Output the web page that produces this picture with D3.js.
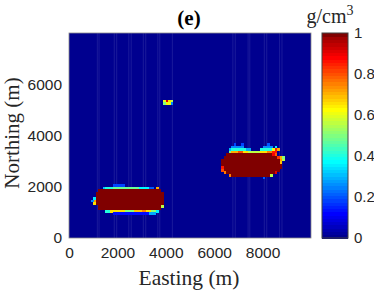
<!DOCTYPE html>
<html>
<head>
<meta charset="utf-8">
<script src="https://cdn.jsdelivr.net/npm/d3@7"></script>
<style>
  body { margin: 0; background: #fff; }
  svg { display: block; }
</style>
</head>
<body>
<div id="chart"></div>
<script>
// axis ticks
var xTicks = [0, 2000, 4000, 6000, 8000];
var yTicks = [0, 2000, 4000, 6000];
var cbTicks = [0, 0.2, 0.4, 0.6, 0.8, 1];

// grid cell size (m)
var cell = 100;

// runs of cells: [northing, eastFrom, eastTo, density]
var bodyWest = [
  [2000, 1800, 2300, 0.18],
  [1900, 1400, 1500, 0.3], [1900, 1500, 1800, 0.4], [1900, 1800, 2900, 0.47],
  [1900, 2900, 3300, 0.36], [1900, 3300, 3500, 0.2], [1900, 3600, 3700, 0.7],
  [1800, 1200, 3800, 1],
  [1700, 1100, 3900, 1], [1600, 1100, 3900, 1], [1500, 1100, 3900, 1],
  [1400, 1100, 3900, 1], [1300, 1100, 3900, 1],
  [1200, 1200, 3800, 1], [1200, 3800, 3900, 0.55],
  [1100, 1200, 3800, 1],
  [1500, 1000, 1100, 0.35], [1400, 1000, 1100, 0.72], [1300, 1000, 1100, 0.65],
  [1400, 900, 1000, 0.25],
  [1000, 1500, 1700, 0.4], [1000, 1700, 2300, 0.65], [1000, 2300, 2700, 0.5],
  [1000, 2700, 3000, 0.68], [1000, 3000, 3200, 0.75], [1000, 3200, 3400, 0.65],
  [1000, 3400, 3600, 0.5], [1000, 3600, 3700, 0.35],
  [900, 1800, 3300, 0.12], [900, 3300, 3600, 0.28]
];

var bodyEast = [
  [3600, 6800, 6900, 0.18], [3600, 7100, 7200, 0.18], [3600, 8200, 8300, 0.2],
  [3500, 6700, 7200, 0.25], [3500, 8000, 8400, 0.25], [3500, 8500, 8600, 0.35],
  [3400, 6600, 6700, 0.3], [3400, 6700, 7300, 0.4], [3400, 7300, 7500, 0.28],
  [3400, 7900, 8400, 0.4], [3400, 8400, 8500, 0.6], [3400, 8500, 8600, 0.85],
  [3400, 8600, 8700, 0.7],
  [3300, 6600, 6700, 0.5], [3300, 6700, 7000, 0.7], [3300, 7000, 7200, 0.8],
  [3300, 7200, 7400, 0.65], [3300, 7400, 7900, 0.55], [3300, 7900, 8200, 0.65],
  [3300, 8200, 8400, 0.75], [3300, 8400, 8600, 0.85],
  [3200, 6500, 8400, 1], [3200, 8400, 8500, 0.88], [3200, 8500, 8600, 0.78],
  [3100, 6400, 8600, 1], [3100, 8600, 8700, 0.82], [3100, 8700, 8800, 0.7],
  [3100, 8800, 8900, 0.5],
  [3000, 6300, 8700, 1], [3000, 8700, 8800, 0.72], [3000, 8800, 8900, 0.55],
  [2900, 6300, 8700, 1], [2900, 8700, 8800, 0.68],
  [2800, 6300, 8800, 1],
  [2700, 6300, 6400, 0.85], [2700, 6400, 8800, 1],
  [2600, 6300, 6400, 0.8], [2600, 6400, 8700, 1],
  [2500, 6400, 6500, 0.75], [2500, 6500, 8500, 1], [2500, 8500, 8600, 0.9],
  [2400, 6600, 6700, 0.75], [2400, 6700, 8300, 1], [2400, 8300, 8400, 0.55],
  [2300, 8000, 8100, 0.2]
];

var bodyNorth = [
  [5300, 3900, 4000, 0.6], [5300, 4000, 4100, 0.9], [5300, 4100, 4200, 0.65],
  [5300, 4200, 4300, 0.55],
  [5200, 3900, 4000, 0.5], [5200, 4000, 4100, 0.63], [5200, 4100, 4200, 0.6],
  [5200, 4200, 4300, 0.25]
];

// faint vertical streaks seen across the model
var streakEastings = [1150, 1220, 1850, 1950, 2450, 2550, 3050, 3150, 3650, 3730,
  4250, 6750, 6850, 7380, 7450, 8050, 8150, 8680, 8780];

var width = 374, height = 291;
var margin = {top: 33, left: 69, right: 63, bottom: 53};

var svg = d3.select("#chart").append("svg")
  .attr("width", width)
  .attr("height", height);

var x = d3.scaleLinear().domain([0, 10000]).range([margin.left, width - margin.right]);
var y = d3.scaleLinear().domain([0, 8000]).range([height - margin.bottom, margin.top]);

// MATLAB jet
var jet = d3.scaleLinear()
  .domain([0, 7 / 63, 23 / 63, 39 / 63, 55 / 63, 1])
  .range(["#00008f", "#0000ff", "#00ffff", "#ffff00", "#ff0000", "#800000"])
  .clamp(true);

// background
svg.append("rect")
  .attr("x", x(0)).attr("y", y(8000))
  .attr("width", x(10000) - x(0)).attr("height", y(0) - y(8000))
  .attr("fill", jet(0));

svg.selectAll(".streak")
  .data(streakEastings)
  .join("rect")
  .attr("class", "streak")
  .attr("x", d => x(d))
  .attr("y", y(8000))
  .attr("width", 1)
  .attr("height", y(0) - y(8000))
  .attr("fill", "#3a3aa8")
  .attr("opacity", 0.45);

// expand runs to cells
var cells = [];
[bodyWest, bodyEast, bodyNorth].forEach(function(body) {
  body.forEach(function(r) {
    for (var e = r[1]; e < r[2]; e += cell) {
      cells.push({e: e, n: r[0], v: r[3]});
    }
  });
});

svg.append("g")
  .attr("shape-rendering", "crispEdges")
  .selectAll("rect")
  .data(cells)
  .join("rect")
  .attr("x", d => x(d.e))
  .attr("y", d => y(d.n + cell))
  .attr("width", d => x(d.e + cell) - x(d.e) + 0.3)
  .attr("height", d => y(d.n) - y(d.n + cell) + 0.3)
  .attr("fill", d => jet(d.v));

// frame
svg.append("rect")
  .attr("x", x(0)).attr("y", y(8000))
  .attr("width", x(10000) - x(0)).attr("height", y(0) - y(8000))
  .attr("fill", "none").attr("stroke", "#8c8c8c").attr("stroke-width", 0.8);

var tickFont = "'Liberation Sans', Arial, sans-serif";
var labelFont = "'Liberation Serif', 'Times New Roman', serif";

var xAxis = svg.append("g")
  .attr("transform", `translate(0,${y(0)})`)
  .call(d3.axisBottom(x).tickValues(xTicks).tickSize(0).tickPadding(9).tickFormat(d3.format("d")));
var yAxis = svg.append("g")
  .attr("transform", `translate(${x(0)},0)`)
  .call(d3.axisLeft(y).tickValues(yTicks).tickSize(0).tickPadding(7).tickFormat(d3.format("d")));

[xAxis, yAxis].forEach(function(a) {
  a.select(".domain").remove();
  a.selectAll("text")
    .attr("font-family", tickFont)
    .attr("font-size", 15.5)
    .attr("fill", "#262626");
});

// colorbar
var cb = {x: 322, w: 26};
var cy = d3.scaleLinear().domain([0, 1]).range([y(0), y(8000)]);
var steps = d3.range(64).map(i => i / 63);
svg.append("g")
  .attr("shape-rendering", "crispEdges")
  .selectAll("rect")
  .data(steps)
  .join("rect")
  .attr("x", cb.x)
  .attr("y", d => cy(Math.min(1, d + 1 / 64)))
  .attr("width", cb.w)
  .attr("height", (cy(0) - cy(1)) / 64 + 0.5)
  .attr("fill", d => jet(d));

svg.append("rect")
  .attr("x", cb.x).attr("y", cy(1))
  .attr("width", cb.w).attr("height", cy(0) - cy(1))
  .attr("fill", "none").attr("stroke", "#404040").attr("stroke-width", 1);

var cAxis = svg.append("g")
  .attr("transform", `translate(${cb.x + cb.w},0)`)
  .call(d3.axisRight(cy).tickValues(cbTicks).tickSize(0).tickPadding(6).tickFormat(d => d === 0 || d === 1 ? d : d3.format(".1f")(d)));
cAxis.select(".domain").remove();
cAxis.selectAll("text")
  .attr("font-family", tickFont)
  .attr("font-size", 15)
  .attr("fill", "#262626");

// unit label
var unit = svg.append("text")
  .attr("x", 330)
  .attr("y", 23)
  .attr("text-anchor", "middle")
  .attr("font-family", labelFont)
  .attr("font-size", 20)
  .attr("fill", "#262626");
unit.append("tspan").text("g/cm");
unit.append("tspan").attr("dy", -8).attr("font-size", 14).text("3");

// title
svg.append("text")
  .attr("x", 189)
  .attr("y", 25)
  .attr("text-anchor", "middle")
  .attr("font-family", labelFont)
  .attr("font-weight", "bold")
  .attr("font-size", 21)
  .attr("fill", "#000")
  .text("(e)");

// axis labels
svg.append("text")
  .attr("x", 189)
  .attr("y", 285)
  .attr("text-anchor", "middle")
  .attr("font-family", labelFont)
  .attr("font-size", 21.5)
  .attr("fill", "#262626")
  .text("Easting (m)");

svg.append("text")
  .attr("transform", "translate(18.5,133) rotate(-90)")
  .attr("text-anchor", "middle")
  .attr("font-family", labelFont)
  .attr("font-size", 21)
  .attr("fill", "#262626")
  .text("Northing (m)");
</script>
</body>
</html>
